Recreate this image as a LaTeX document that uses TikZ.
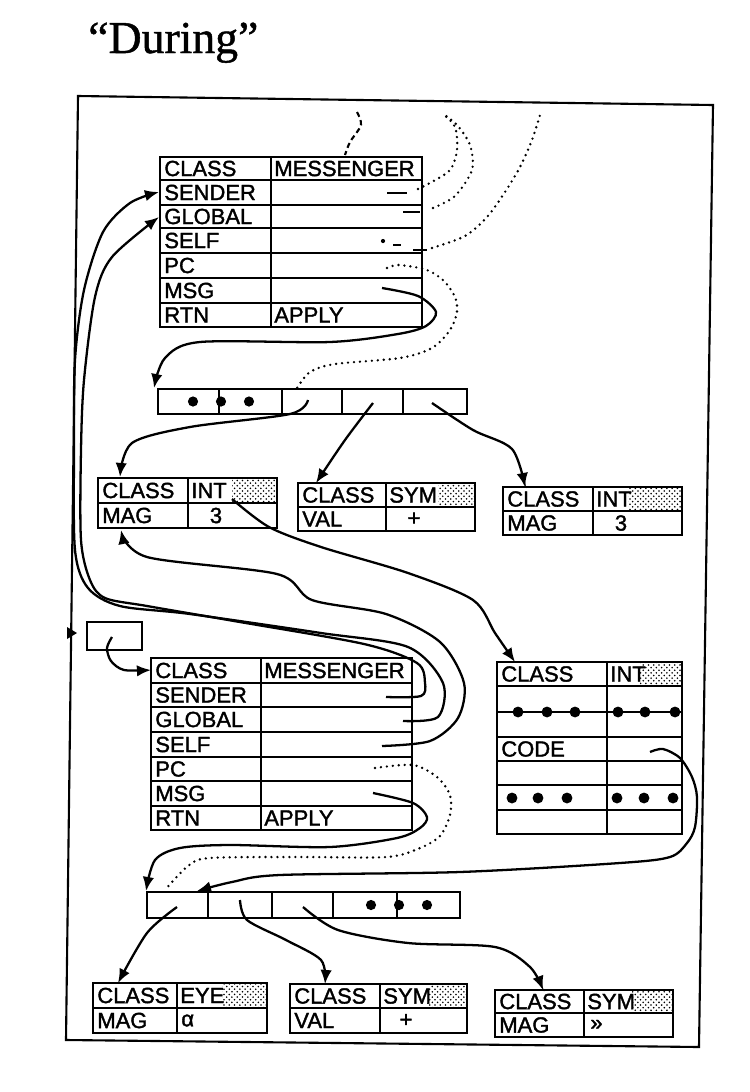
\documentclass[tikz,border=0pt]{standalone}
\usepackage{fontspec}
\setmainfont{Liberation Serif}[FakeBold=1]
\newfontfamily\cellfont{Liberation Sans}[FakeBold=1.6]
\usetikzlibrary{arrows.meta,patterns}

\begin{document}
\begin{tikzpicture}[x=0.2mm,y=-0.2mm,
  box/.style={line width=1.6pt},
  txt/.style={anchor=west, inner sep=0pt, font=\cellfont\fontsize{12.5}{14}\selectfont},
  ctxt/.style={inner sep=0pt, font=\cellfont\fontsize{12.5}{14}\selectfont},
  ptr/.style={line width=1.3pt, -{Latex[length=8pt,width=6.5pt]}},
  old/.style={line width=1.5pt, line cap=round, dash pattern=on 0pt off 3.4pt},
  stub/.style={line width=1.5pt},
  stip/.style={pattern=crosshatch dots, pattern color=black}]
\useasboundingbox (0,0) rectangle (750,1092);
\node[anchor=base west, inner sep=0pt, font=\fontsize{26}{30}\selectfont] (title) at (88,53) {“During”};
\draw[line width=1.2pt] (78,96) -- (713,105) -- (699,1047) -- (66,1040) -- cycle;
\fill (67,627) -- (77,633) -- (67,639) -- cycle;

% upper messenger
\draw[box] (160,157) rectangle (422,327); \draw[box] (271,157) -- (271,327);
\draw[box] (160,180) -- (422,180) (160,205) -- (422,205) (160,228) -- (422,228) (160,253) -- (422,253) (160,278) -- (422,278) (160,303) -- (422,303);
\node[txt](m1a) at (164,168.5) {CLASS}; \node[txt](m1b) at (164,192.5) {SENDER}; \node[txt](m1c) at (164,216.5) {GLOBAL}; \node[txt](m1d) at (164,240.5) {SELF};
\node[txt](m1e) at (164,265.5) {PC}; \node[txt](m1f) at (164,290.5) {MSG}; \node[txt](m1g) at (164,315) {RTN};
\node[txt](m1h) at (274,168.5) {MESSENGER}; \node[txt](m1i) at (274,315) {APPLY};

% first argument array
\draw[box] (158,389) rectangle (467,414); \draw[box] (219,389) -- (219,414) (282,389) -- (282,414) (342,389) -- (342,414) (403,389) -- (403,414);
\fill (193,401.5) circle[radius=2.9pt] (221,401.5) circle[radius=2.9pt] (249,401.5) circle[radius=2.9pt];

% three arguments
\fill[stip] (232,478) rectangle (277,503); \draw[box] (98,478) rectangle (277,528); \draw[box] (98,503) -- (277,503) (188,478) -- (188,528);
\node[txt](i1a) at (102,490.5) {CLASS}; \node[txt](i1b) at (191,490.5) {INT}; \node[txt](i1c) at (102,515.5) {MAG}; \node[ctxt](i1d) at (216,515.5) {3};
\fill[stip] (438,483) rectangle (475,507); \draw[box] (298,483) rectangle (475,531); \draw[box] (298,507) -- (475,507) (386,483) -- (386,531);
\node[txt](s1a) at (302,495) {CLASS}; \node[txt](s1b) at (389,495) {SYM}; \node[txt](s1c) at (302,519) {VAL}; \node[ctxt](s1d) at (414,519) {+};
\fill[stip] (628,487) rectangle (682,511); \draw[box] (503,487) rectangle (682,535); \draw[box] (503,511) -- (682,511) (593,487) -- (593,535);
\node[txt](i2a) at (507,499) {CLASS}; \node[txt](i2b) at (596,499) {INT}; \node[txt](i2c) at (507,523) {MAG}; \node[ctxt](i2d) at (621,523) {3};

% small box
\draw[box] (87,622) rectangle (142,650);

% lower messenger
\draw[box] (151,658) rectangle (412,830); \draw[box] (261,658) -- (261,830);
\draw[box] (151,683) -- (412,683) (151,707) -- (412,707) (151,732) -- (412,732) (151,757) -- (412,757) (151,781) -- (412,781) (151,806) -- (412,806);
\node[txt](m2a) at (155,670.5) {CLASS}; \node[txt](m2b) at (155,695) {SENDER}; \node[txt](m2c) at (155,719.5) {GLOBAL}; \node[txt](m2d) at (155,744.5) {SELF};
\node[txt](m2e) at (155,769) {PC}; \node[txt](m2f) at (155,793.5) {MSG}; \node[txt](m2g) at (155,818) {RTN};
\node[txt](m2h) at (264,670.5) {MESSENGER}; \node[txt](m2i) at (264,818) {APPLY};

% class INT
\fill[stip] (640,662) rectangle (682,686); \draw[box] (497,662) rectangle (682,834); \draw[box] (607,662) -- (607,834);
\draw[box] (497,686) -- (682,686) (497,712) -- (682,712) (497,737) -- (682,737) (497,761) -- (682,761) (497,785) -- (682,785) (497,810) -- (682,810);
\node[txt](ra) at (501,674) {CLASS}; \node[txt](rb) at (610,674) {INT}; \node[txt](rc) at (501,749) {CODE};
\fill (518,712) circle[radius=3.1pt] (547,712) circle[radius=3.1pt] (575,712) circle[radius=3.1pt] (618,712) circle[radius=3.1pt] (645,712) circle[radius=3.1pt] (675,712) circle[radius=3.1pt];
\fill (512,798) circle[radius=3.1pt] (538,798) circle[radius=3.1pt] (567,798) circle[radius=3.1pt] (617,798) circle[radius=3.1pt] (644,798) circle[radius=3.1pt] (673,798) circle[radius=3.1pt];

% second argument array
\draw[box] (147,892) rectangle (460,918); \draw[box] (208,892) -- (208,918) (272,892) -- (272,918) (333,892) -- (333,918) (397,892) -- (397,918);
\fill (371,905) circle[radius=2.9pt] (399,905) circle[radius=2.9pt] (427,905) circle[radius=2.9pt];

% bottom objects
\fill[stip] (222,983) rectangle (267,1008); \draw[box] (93,983) rectangle (267,1033); \draw[box] (93,1008) -- (267,1008) (177,983) -- (177,1033);
\node[txt](ea) at (97,995.5) {CLASS}; \node[txt](eb) at (180,995.5) {EYE}; \node[txt](ec) at (97,1020.5) {MAG}; \node[txt](ed) at (181,1020.5) {α};
\fill[stip] (428,984) rectangle (467,1008); \draw[box] (290,984) rectangle (467,1033); \draw[box] (290,1008) -- (467,1008) (380,984) -- (380,1033);
\node[txt](s2a) at (294,996) {CLASS}; \node[txt](s2b) at (383,996) {SYM}; \node[txt](s2c) at (294,1020.5) {VAL}; \node[ctxt](s2d) at (406,1020.5) {+};
\fill[stip] (632,990) rectangle (673,1013); \draw[box] (495,990) rectangle (673,1037); \draw[box] (495,1013) -- (673,1013) (584,990) -- (584,1037);
\node[txt](s3a) at (499,1001.5) {CLASS}; \node[txt](s3b) at (587,1001.5) {SYM}; \node[txt](s3c) at (499,1025) {MAG}; \node[txt](s3d) at (590,1025) {»};

% pointer ends
\coordinate (m1msg) at (382,288); \coordinate (a1in) at (154,388);
\coordinate (a1c2) at (308,400); \coordinate (a1c3) at (373,403); \coordinate (a1c4) at (432,403);
\coordinate (i1top) at (120,477); \coordinate (s1top) at (316,483); \coordinate (i2top) at (525,487);
\coordinate (i1cls) at (232,499); \coordinate (rtop) at (515,662); \coordinate (i1bot) at (121,530);
\coordinate (m2snd) at (386,697); \coordinate (m2glb) at (403,721); \coordinate (m2self) at (382,746); \coordinate (m2msg) at (373,793);
\coordinate (m1sndl) at (159,192); \coordinate (m1glbl) at (159,217);
\coordinate (sbox) at (112,637); \coordinate (m2cls) at (151,670);
\coordinate (rcode) at (650,752); \coordinate (a2in) at (146,891); \coordinate (a2c1in) at (197,891);
\coordinate (a2c1) at (177,907); \coordinate (a2c2) at (240,900); \coordinate (a2c3) at (303,907);
\coordinate (etop) at (118,983); \coordinate (s2top) at (325,984); \coordinate (s3top) at (543,990);

% live pointers
\draw[ptr] plot[smooth] coordinates {(m1msg) (418,296) (436,312) (426,326) (398,334) (330,342) (200,342) (165,358) (a1in)};
\draw[ptr] plot[smooth] coordinates {(a1c2) (290,414) (190,427) (132,443) (i1top)};
\draw[ptr] plot[smooth] coordinates {(a1c3) (345,440) (s1top)};
\draw[ptr] plot[smooth] coordinates {(a1c4) (473,430) (512,449) (i2top)};
\draw[ptr] plot[smooth] coordinates {(i1cls) (269,527) (321,547) (408,573) (473,600) (495,633) (rtop)};
\draw[ptr] plot[smooth] coordinates {(m2self) (430,741) (458,718) (464,683) (440,642) (386,614) (312,600) (277,574) (147,557) (i1bot)};
\draw[ptr] plot[smooth] coordinates {(m2glb) (438,717) (443,683) (408,647) (321,633) (190,614) (120,606) (88,588) (75,550) (74,450) (75,360) (84,290) (103,232) (130,203) (m1sndl)};
\draw[ptr] plot[smooth] coordinates {(m2snd) (421,696) (425,683) (417,663) (364,644) (234,621) (147,606) (105,598) (90,580) (81,540) (81,450) (84,380) (95,297) (112,257) (m1glbl)};
\draw[ptr] plot[smooth] coordinates {(sbox) (107,648) (111,661) (124,670) (m2cls)};
\draw[ptr] plot[smooth] coordinates {(rcode) (663,749) (680,758) (692,777) (697,797) (695,827) (687,843) (670,857) (620,863) (460,872) (280,875) (232,882) (a2c1in)};
\draw[ptr] plot[smooth] coordinates {(m2msg) (413,803) (427,817) (420,828) (397,838) (330,847) (230,845) (180,848) (155,860) (a2in)};
\draw[ptr] plot[smooth] coordinates {(a2c1) (147,933) (etop)};
\draw[ptr] plot[smooth] coordinates {(a2c2) (247,920) (286,940) (321,960) (s2top)};
\draw[ptr] plot[smooth] coordinates {(a2c3) (338,930) (408,943) (495,947) (530,967) (s3top)};

% old pointers
\coordinate (o1) at (357,112); \coordinate (o1e) at (345,155);
\coordinate (o2) at (442,113); \coordinate (o2e) at (418,189); \coordinate (o3e) at (433,208); \coordinate (o4) at (540,115); \coordinate (o4e) at (432,248);
\coordinate (o5) at (387,268); \coordinate (o5e) at (297,388); \coordinate (o6) at (375,768); \coordinate (o6e) at (165,890);
\draw[line width=1.2pt, dash pattern=on 3pt off 2pt] plot[smooth] coordinates {(o1) (361,125) (350,142) (o1e)};
\draw[old] plot[smooth] coordinates {(o2e) (430,183) (450,170) (457,150) (455,127) (o2)};
\draw[old] plot[smooth] coordinates {(o3e) (455,196) (472,170) (470,145) (457,125) (o2)};
\draw[old] plot[smooth] coordinates {(o4e) (465,236) (487,217) (505,192) (520,167) (532,140) (o4)};
\draw[old] plot[smooth] coordinates {(o5) (399,265) (427,270) (444,281) (455,297) (457,312) (450,330) (432,348) (400,358) (335,364) (310,372) (o5e)};
\draw[old] plot[smooth] coordinates {(o6) (413,765) (437,777) (450,795) (450,815) (440,836) (420,848) (387,857) (300,857) (210,858) (188,866) (o6e)};
\draw[stub] (387,193) -- (407,193) (403,212) -- (420,212) (393,245) -- (401,245) (413,250) -- (427,250);
\fill (383,241) circle[radius=1.2pt];
\end{tikzpicture}
\end{document}
